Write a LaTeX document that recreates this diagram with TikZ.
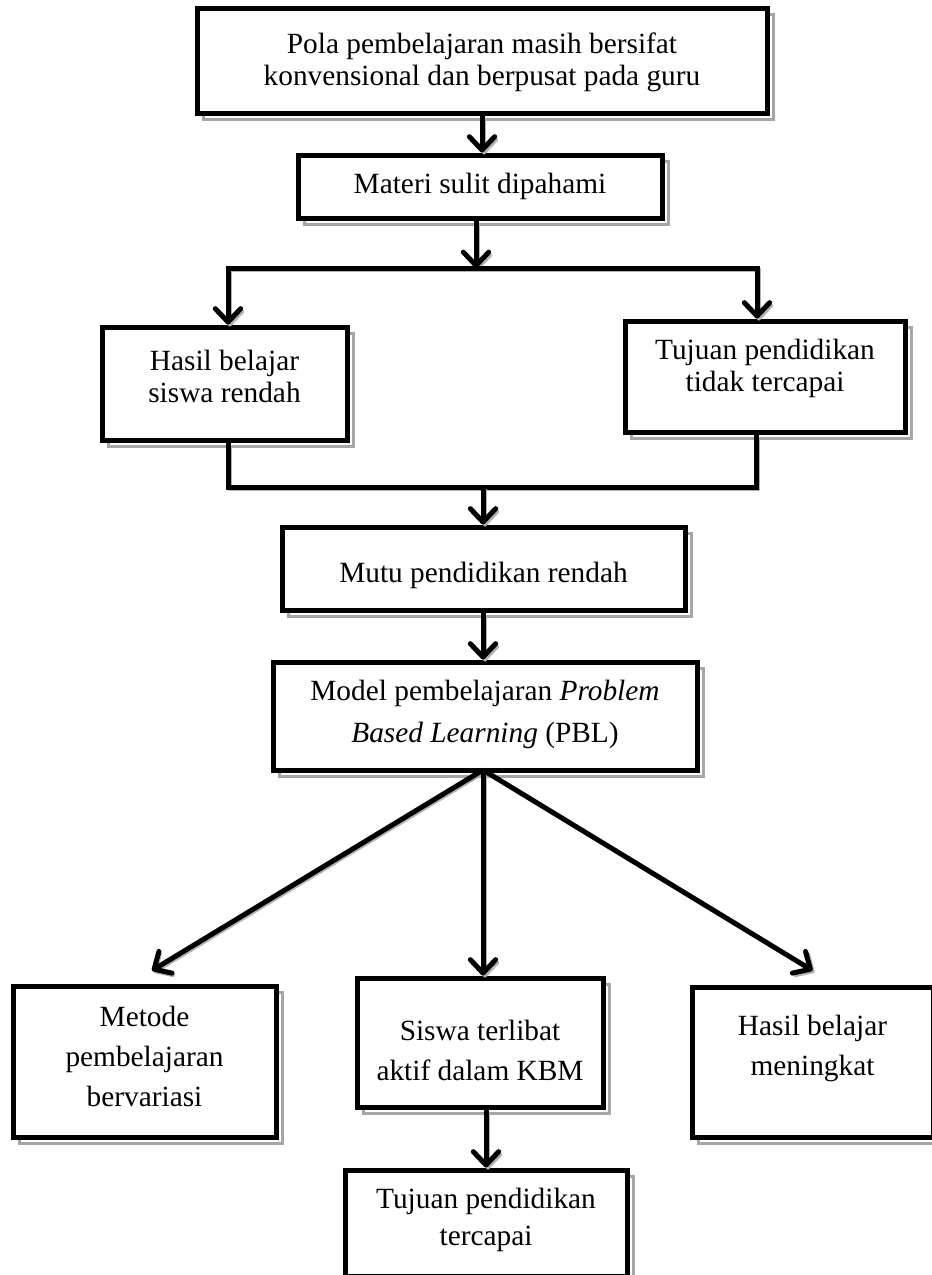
\documentclass[tikz,border=0pt]{standalone}
\usepackage{fontspec}
\setmainfont{Liberation Serif}
\usetikzlibrary{arrows.meta}
\begin{document}
\begin{tikzpicture}[x=0.75pt,y=-0.75pt,
  box/.style={draw=black, line width=3.75pt, fill=white, inner sep=0pt,
     preaction={draw=gray!70, line width=2.25pt, transform canvas={shift={(4.5pt,-4.5pt)}}}},
  txt/.style={align=center, inner sep=0pt, font=\fontsize{22pt}{#1}\selectfont},
  ln/.style={line width=3.75pt, line join=miter,
     preaction={draw=gray!60, line width=2.5pt, transform canvas={shift={(1.5pt,-1.5pt)}}}},
  arr/.style={ln, -{Straight Barb[length=10pt,width=19pt,round]}},
  arrboth/.style={ln, {Straight Barb[length=10pt,width=19pt,round]}-{Straight Barb[length=10pt,width=19pt,round]}},
]
\useasboundingbox (0,0) rectangle (932,1275);
\fill[white] (0,0) rectangle (932,1275);

\node[box, minimum width=427.5pt, minimum height=78.75pt,
      label={[txt=24pt, yshift=-1.5pt]center:{Pola pembelajaran masih bersifat\\konvensional dan berpusat pada guru}}] (b1) at (482,60.5) {};
\node[box, minimum width=273pt, minimum height=47.25pt,
      label={[txt=24pt]center:{Materi sulit dipahami}}] (b2) at (480,186.5) {};
\node[box, minimum width=183.75pt, minimum height=84.75pt,
      label={[txt=24pt, yshift=5.25pt]center:{Hasil belajar\\siswa rendah}}] (b3) at (224.5,383.5) {};
\node[box, minimum width=210pt, minimum height=83.25pt,
      label={[txt=24pt, yshift=6pt]center:{Tujuan pendidikan\\tidak tercapai}}] (b4) at (765,376.5) {};
\node[box, minimum width=302.25pt, minimum height=62.25pt,
      label={[txt=24pt, yshift=-5.25pt]center:{Mutu pendidikan rendah}}] (b5) at (483.5,568.5) {};
\node[box, minimum width=318pt, minimum height=81pt,
      label={[txt=31.5pt, yshift=1.5pt]center:{Model pembelajaran \textit{Problem}\\\textit{Based Learning} (PBL)}}] (b6) at (485,716) {};
\node[box, minimum width=197.25pt, minimum height=113.25pt,
      label={[txt=30pt, yshift=3.75pt]center:{Metode\\pembelajaran\\bervariasi}}] (b7) at (144.5,1061.5) {};
\node[box, minimum width=184.5pt, minimum height=96.75pt,
      label={[txt=30pt, yshift=-6pt]center:{Siswa terlibat\\aktif dalam KBM}}] (b8) at (480,1042.5) {};
\node[box, minimum width=180.75pt, minimum height=112.5pt,
      label={[txt=30pt, yshift=10.5pt]center:{Hasil belajar\\meningkat}}] (b9) at (812.5,1062) {};
\node[box, minimum width=211.5pt, minimum height=79.5pt,
      label={[txt=28pt, yshift=2.25pt]center:{Tujuan pendidikan\\tercapai}}] (b10) at (486,1223) {};

% top arrows
\draw[arr] (b1.south) -- (b1.south |- b2.north);
\coordinate (hL) at (228,268);
\coordinate (hR) at (757,268);
\coordinate (hC) at (476,268);
\draw[arr] (hC |- b2.south) -- (hC);
\draw[arrboth] (hL |- b3.north) -- (hL) -- (hR) -- (hR |- b4.north);

% merge
\coordinate (mL) at (228,487);
\coordinate (mR) at (756,487);
\coordinate (mC) at (483,487);
\draw[ln] (mL |- b3.south) -- (mL) -- (mR) -- (mR |- b4.south);
\draw[arr] (mC) -- (mC |- b5.north);
\draw[arr] (mC |- b5.south) -- (mC |- b6.north);

% fan
\coordinate (fan) at (483,770);
\draw[arr] (fan) -- ([xshift=5.6pt,yshift=9.75pt]b7.north);
\draw[arr] (fan) -- (fan |- b8.north);
\draw[arr] (fan) -- ([yshift=10.5pt]b9.north);
\draw[arr] (b10.north |- b8.south) -- (b10.north);
\end{tikzpicture}
\end{document}
